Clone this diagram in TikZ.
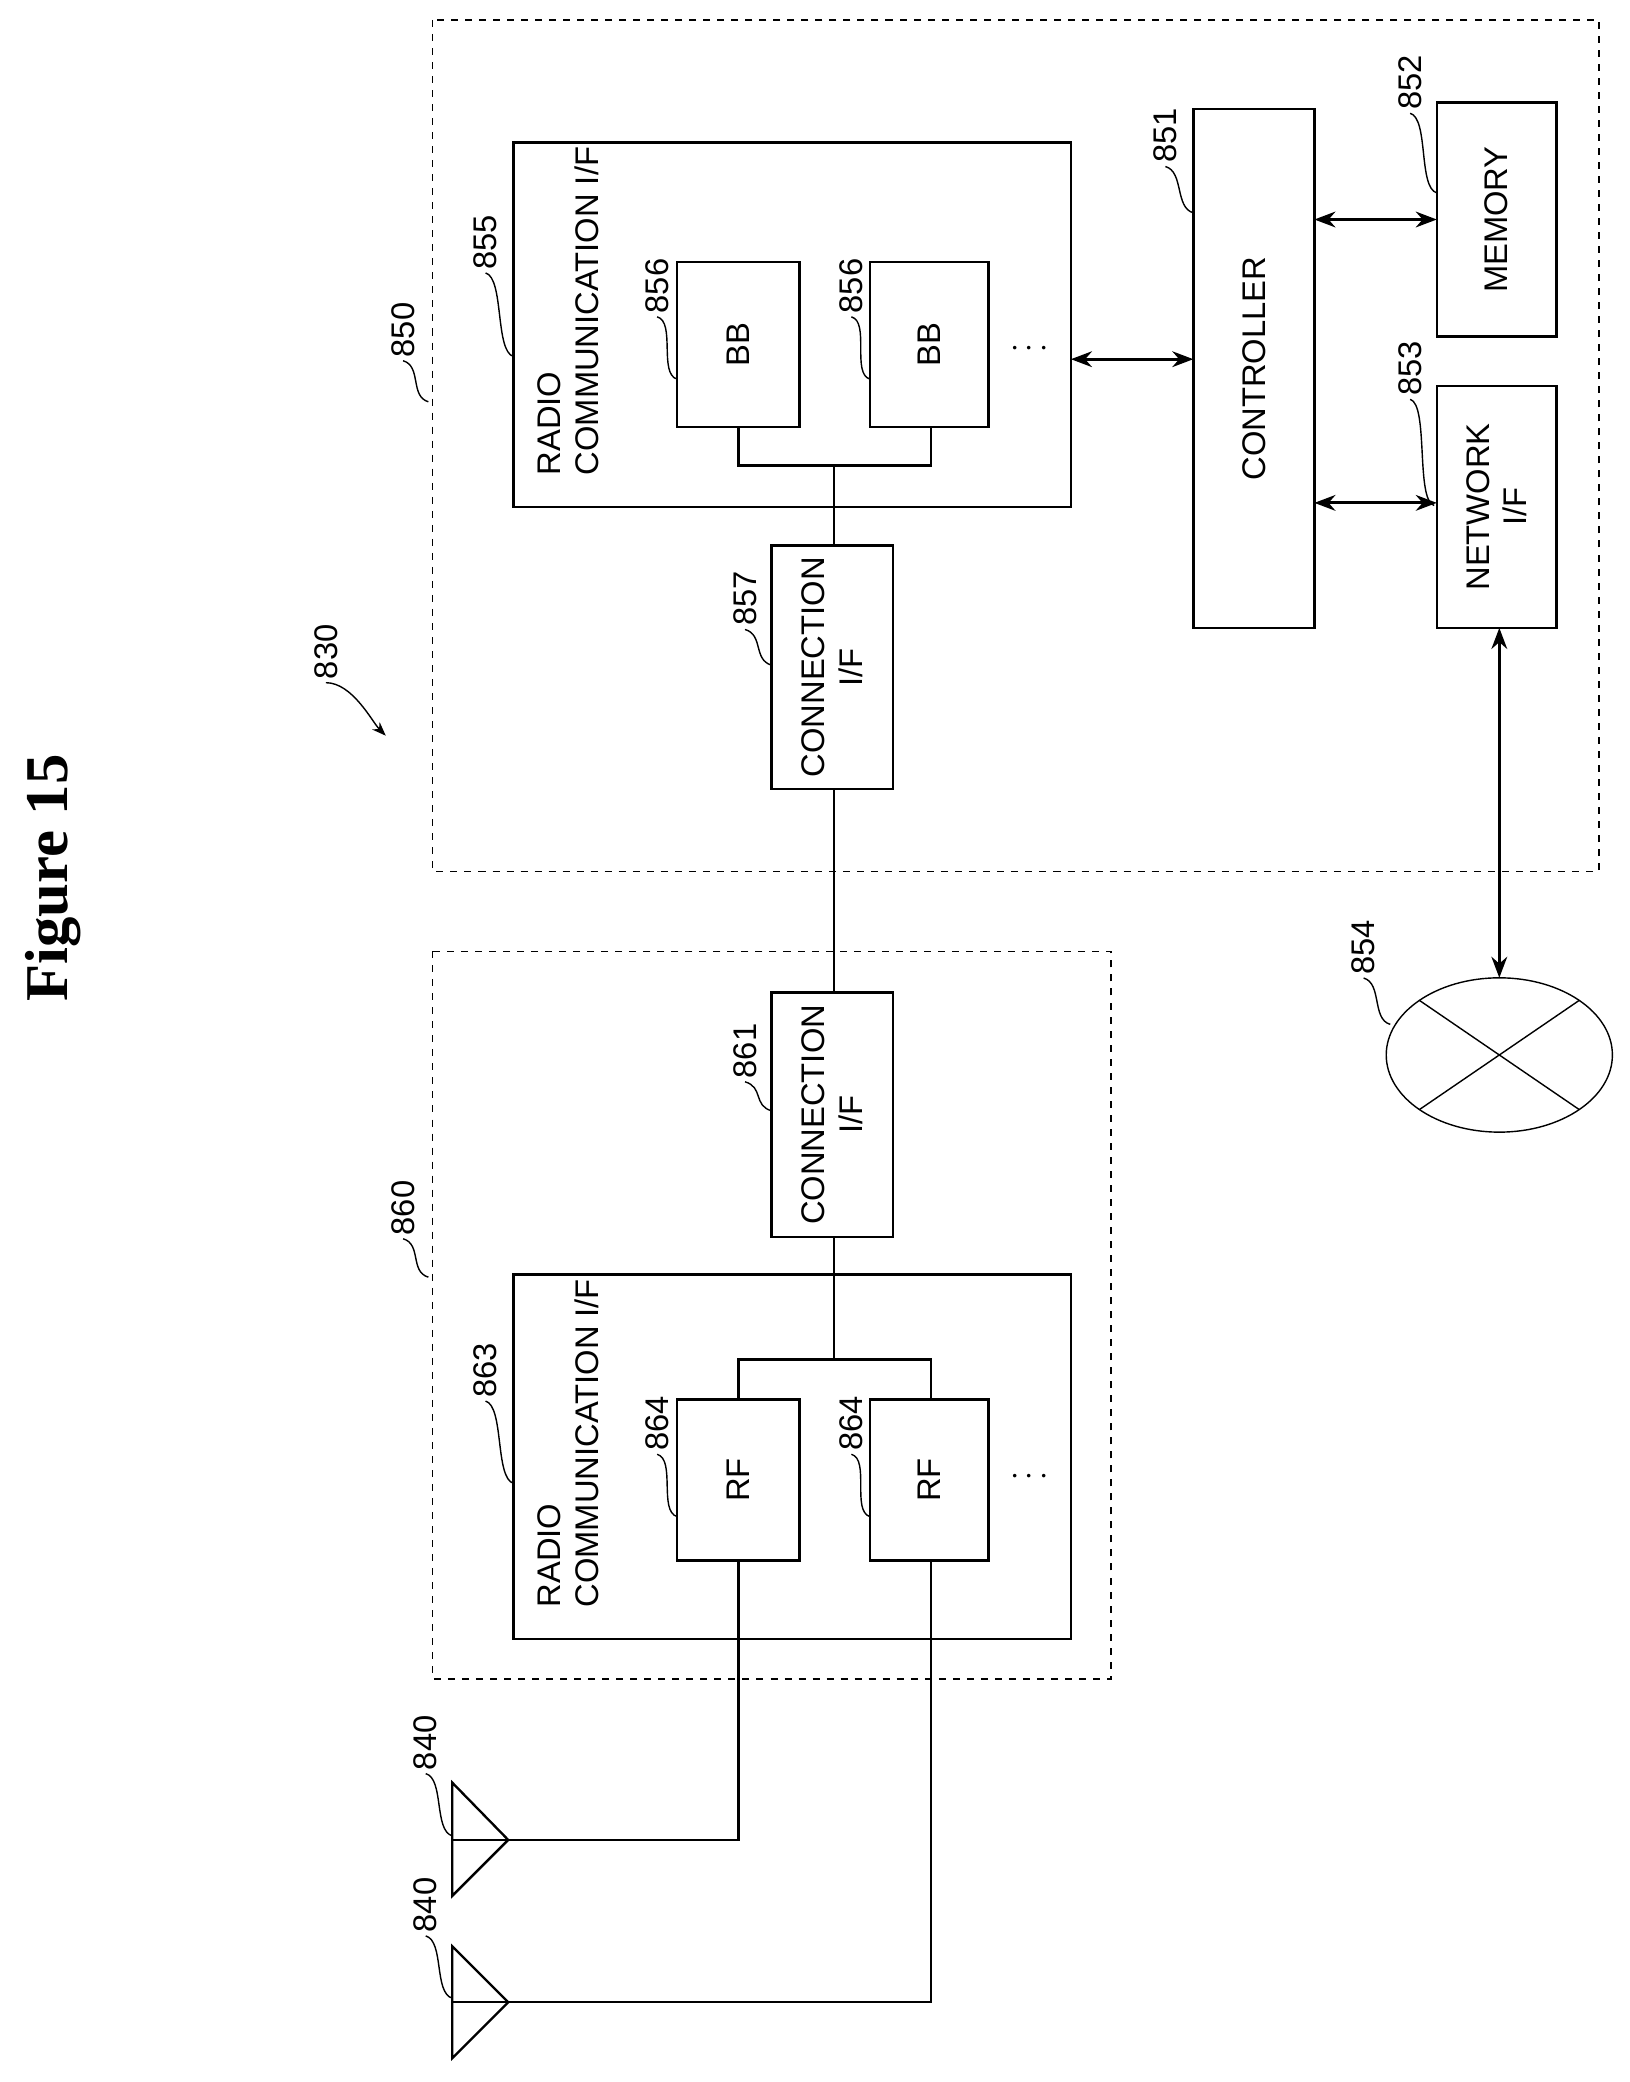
\documentclass[tikz,border=0pt]{standalone}
\usepackage{fontspec}
\setmainfont{Liberation Sans}
\newfontfamily\titlefont{Liberation Serif}
\usetikzlibrary{arrows.meta,shapes.geometric}
\begin{document}
\begin{tikzpicture}[
   x=0.02cm, y=-0.02cm,
   line width=1pt,
   every node/.append style={align=center, font=\fontsize{14}{16}\selectfont},
   box/.style={draw, rectangle, inner sep=0pt},
   dbox/.style={draw, dashed, line width=0.6pt},
   num/.style={rotate=90, inner sep=1pt},
   txt/.style={rotate=90},
   link/.style={{Stealth[length=9pt]}-{Stealth[length=9pt]}, line width=1.2pt}
]
\useasboundingbox (0,0) rectangle (1225,1565);
\newcommand{\tag}[4]{% name, position, text, target
  \node[num] (#1) at (#2) {#3};
  \draw[line width=0.6pt] (#1.west) .. controls +(14,4) and +(-14,-4) .. (#4);}
% title
\node[rotate=90, font=\fontsize{26}{28}\selectfont\titlefont\bfseries] (title) at (40,660) {Figure 15};
% base station device
\draw[dbox] (325,15) rectangle (1202,655);
\draw[dbox] (325,715) rectangle (835,1262);
\draw[box] (386,107) rectangle (805,381);
\node[txt, anchor=west, align=left] (rci1) at (427,364) {RADIO\\COMMUNICATION I/F};
\draw[box] (509,197) rectangle (601,321) node[midway,txt] (bb1) {BB};
\draw[box] (654,197) rectangle (743,321) node[midway,txt] (bb2) {BB};
\node (dots1) at (774,262) {$\cdots$};
\draw (555,321) |- (700,350) -- (700,321);
\draw[box] (580,410) rectangle (671,593) node[midway,txt] (con1) {CONNECTION\\I/F};
\draw (627,350) -- (627,410);
\draw (627,593) -- (627,746);
\draw[box] (580,746) rectangle (671,930) node[midway,txt] (con2) {CONNECTION\\I/F};
% remote radio head
\draw[box] (386,958) rectangle (805,1232);
\node[txt, anchor=west, align=left] (rci2) at (427,1215) {RADIO\\COMMUNICATION I/F};
\draw (627,930) -- (627,1022);
\draw (555,1052) |- (700,1022) -- (700,1052);
\draw[box] (509,1052) rectangle (601,1173) node[midway,txt] (rf1) {RF};
\draw[box] (654,1052) rectangle (743,1173) node[midway,txt] (rf2) {RF};
\node (dots2) at (774,1110) {$\cdots$};
% antennas
\draw (340,1340) -- (340,1425) -- (382,1383) -- cycle;
\draw (340,1463) -- (340,1547) -- (382,1505) -- cycle;
\draw (555,1173) |- (340,1383);
\draw (700,1173) |- (340,1505);
% controller side
\draw[box] (897,82) rectangle (988,472) node[midway,txt] (ctrl) {CONTROLLER};
\draw[box] (1080,77) rectangle (1170,253) node[midway,txt] (mem) {MEMORY};
\draw[box] (1080,290) rectangle (1170,472) node[midway,txt] (net) {NETWORK\\I/F};
\draw[link] (805,270) -- (897,270);
\draw[link] (988,165) -- (1080,165);
\draw[link] (988,378) -- (1080,378);
\draw[line width=0.6pt] (1127,793) ellipse (85 and 58);
\draw[line width=0.6pt] (1067,752) -- (1187,834) (1067,834) -- (1187,752);
\draw[link] (1127,472) -- (1127,735);
% reference numerals
\node[num] (n830) at (245,490) {830};
\draw[line width=0.6pt, -{Stealth[length=6pt]}] (n830.west) .. controls +(20,0) and +(-10,-10) .. (290,553);
\tag{n850}{303,248}{850}{322,302}
\tag{n855}{365,182}{855}{386,268}
\tag{n856a}{494,215}{856}{509,285}
\tag{n856b}{640,215}{856}{654,285}
\tag{n857}{560,450}{857}{580,500}
\tag{n851}{876,102}{851}{897,160}
\tag{n852}{1060,62}{852}{1080,145}
\tag{n853}{1060,277}{853}{1078,380}
\tag{n854}{1025,712}{854}{1045,770}
\tag{n860}{303,908}{860}{322,960}
\tag{n861}{560,790}{861}{580,835}
\tag{n863}{365,1030}{863}{386,1115}
\tag{n864a}{494,1070}{864}{509,1140}
\tag{n864b}{640,1070}{864}{654,1140}
\tag{n840a}{320,1310}{840}{340,1380}
\tag{n840b}{320,1432}{840}{340,1502}
\end{tikzpicture}
\end{document}
